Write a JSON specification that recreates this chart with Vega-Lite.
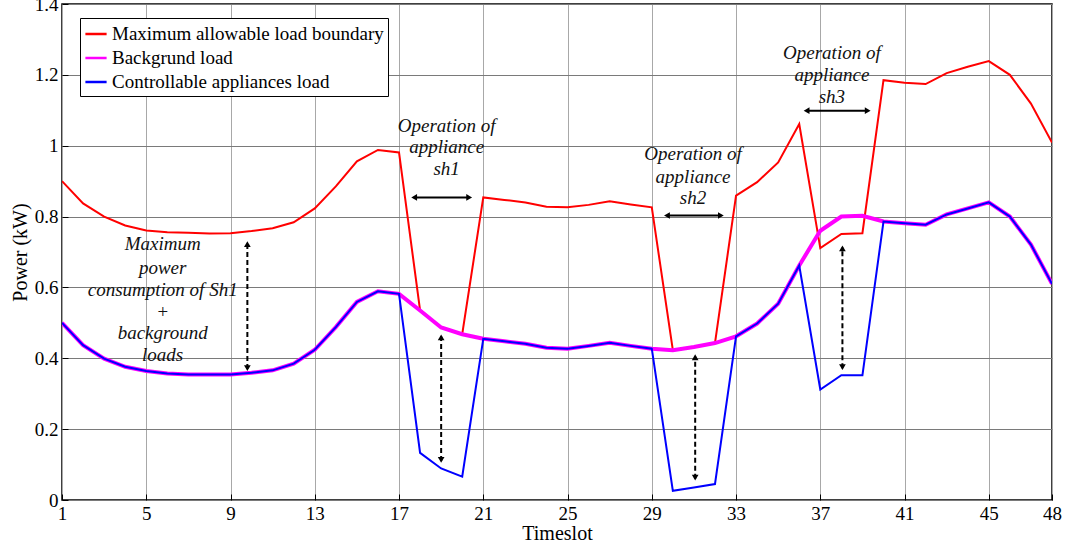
{
  "$schema": "https://vega.github.io/schema/vega-lite/v6.json",
  "width": 990,
  "height": 496,
  "autosize": {"type": "none"},
  "padding": {"left": 62, "top": 4, "right": 25, "bottom": 49},
  "background": "white",
  "config": {
    "view": {"stroke": "black", "strokeWidth": 1.5},
    "font": "Liberation Serif, Times New Roman, serif",
    "axis": {
      "labelFont": "Liberation Serif, Times New Roman, serif",
      "labelFontSize": 19,
      "labelColor": "black",
      "titleFont": "Liberation Serif, Times New Roman, serif",
      "titleFontSize": 20,
      "titleFontWeight": "normal",
      "titleColor": "black",
      "gridOpacity": 1,
      "gridWidth": 1,
      "domain": false,
      "tickColor": "black",
      "tickSize": -6,
      "tickWidth": 1
    },
    "axisX": {"gridColor": "#a8a8a8"},
    "axisY": {"gridColor": "#7a7a7a"},
    "legend": {
      "labelFont": "Liberation Serif, Times New Roman, serif",
      "labelFontSize": 19,
      "labelColor": "black",
      "labelLimit": 600,
      "symbolType": "stroke",
      "symbolStrokeWidth": 2.5,
      "symbolSize": 450,
      "strokeColor": "black",
      "fillColor": "white",
      "padding": 4,
      "rowPadding": 2
    }
  },
  "datasets": {
    "series": [
      {"x": 1, "max": 0.90, "bg": 0.50, "ctrl": 0.50},
      {"x": 2, "max": 0.837, "bg": 0.437, "ctrl": 0.437},
      {"x": 3, "max": 0.80, "bg": 0.399, "ctrl": 0.399},
      {"x": 4, "max": 0.775, "bg": 0.376, "ctrl": 0.376},
      {"x": 5, "max": 0.761, "bg": 0.364, "ctrl": 0.364},
      {"x": 6, "max": 0.756, "bg": 0.357, "ctrl": 0.357},
      {"x": 7, "max": 0.754, "bg": 0.354, "ctrl": 0.354},
      {"x": 8, "max": 0.752, "bg": 0.354, "ctrl": 0.354},
      {"x": 9, "max": 0.753, "bg": 0.354, "ctrl": 0.354},
      {"x": 10, "max": 0.759, "bg": 0.359, "ctrl": 0.359},
      {"x": 11, "max": 0.767, "bg": 0.366, "ctrl": 0.366},
      {"x": 12, "max": 0.784, "bg": 0.385, "ctrl": 0.385},
      {"x": 13, "max": 0.823, "bg": 0.424, "ctrl": 0.424},
      {"x": 14, "max": 0.885, "bg": 0.488, "ctrl": 0.488},
      {"x": 15, "max": 0.956, "bg": 0.559, "ctrl": 0.559},
      {"x": 16, "max": 0.988, "bg": 0.589, "ctrl": 0.589},
      {"x": 17, "max": 0.981, "bg": 0.582, "ctrl": 0.582},
      {"x": 18, "max": 0.535, "bg": 0.535, "ctrl": 0.133},
      {"x": 19, "max": 0.487, "bg": 0.487, "ctrl": 0.089},
      {"x": 20, "max": 0.468, "bg": 0.468, "ctrl": 0.066},
      {"x": 21, "max": 0.854, "bg": 0.455, "ctrl": 0.455},
      {"x": 22, "max": 0.847, "bg": 0.448, "ctrl": 0.448},
      {"x": 23, "max": 0.840, "bg": 0.441, "ctrl": 0.441},
      {"x": 24, "max": 0.828, "bg": 0.430, "ctrl": 0.430},
      {"x": 25, "max": 0.826, "bg": 0.427, "ctrl": 0.427},
      {"x": 26, "max": 0.833, "bg": 0.435, "ctrl": 0.435},
      {"x": 27, "max": 0.843, "bg": 0.444, "ctrl": 0.444},
      {"x": 28, "max": 0.834, "bg": 0.435, "ctrl": 0.435},
      {"x": 29, "max": 0.826, "bg": 0.427, "ctrl": 0.427},
      {"x": 30, "max": 0.423, "bg": 0.423, "ctrl": 0.026},
      {"x": 31, "max": 0.432, "bg": 0.432, "ctrl": 0.035},
      {"x": 32, "max": 0.443, "bg": 0.443, "ctrl": 0.045},
      {"x": 33, "max": 0.859, "bg": 0.462, "ctrl": 0.462},
      {"x": 34, "max": 0.897, "bg": 0.498, "ctrl": 0.498},
      {"x": 35, "max": 0.953, "bg": 0.554, "ctrl": 0.554},
      {"x": 36, "max": 1.061, "bg": 0.662, "ctrl": 0.662},
      {"x": 37, "max": 0.711, "bg": 0.760, "ctrl": 0.312},
      {"x": 38, "max": 0.751, "bg": 0.800, "ctrl": 0.352},
      {"x": 39, "max": 0.753, "bg": 0.802, "ctrl": 0.352},
      {"x": 40, "max": 1.185, "bg": 0.786, "ctrl": 0.786},
      {"x": 41, "max": 1.178, "bg": 0.781, "ctrl": 0.781},
      {"x": 42, "max": 1.174, "bg": 0.777, "ctrl": 0.777},
      {"x": 43, "max": 1.205, "bg": 0.806, "ctrl": 0.806},
      {"x": 44, "max": 1.223, "bg": 0.823, "ctrl": 0.823},
      {"x": 45, "max": 1.239, "bg": 0.840, "ctrl": 0.840},
      {"x": 46, "max": 1.200, "bg": 0.800, "ctrl": 0.800},
      {"x": 47, "max": 1.119, "bg": 0.721, "ctrl": 0.721},
      {"x": 48, "max": 1.009, "bg": 0.610, "ctrl": 0.610}
    ],
    "vrules": [
      {"x": 9.8, "y": 0.37, "y2": 0.725},
      {"x": 19.0, "y": 0.11, "y2": 0.462},
      {"x": 31.06, "y": 0.06, "y2": 0.406},
      {"x": 38.05, "y": 0.372, "y2": 0.713}
    ],
    "hrules": [
      {"x": 17.75, "x2": 20.3, "y": 0.854},
      {"x": 29.75, "x2": 32.25, "y": 0.803},
      {"x": 36.38, "x2": 39.22, "y": 1.099}
    ],
    "heads": [
      {"x": 9.8, "y": 0.722, "dir": "up"},
      {"x": 9.8, "y": 0.372, "dir": "down"},
      {"x": 19.0, "y": 0.459, "dir": "up"},
      {"x": 19.0, "y": 0.113, "dir": "down"},
      {"x": 31.06, "y": 0.403, "dir": "up"},
      {"x": 31.06, "y": 0.063, "dir": "down"},
      {"x": 38.05, "y": 0.71, "dir": "up"},
      {"x": 38.05, "y": 0.375, "dir": "down"},
      {"x": 17.72, "y": 0.854, "dir": "left"},
      {"x": 20.33, "y": 0.854, "dir": "right"},
      {"x": 29.72, "y": 0.803, "dir": "left"},
      {"x": 32.28, "y": 0.803, "dir": "right"},
      {"x": 36.35, "y": 1.099, "dir": "left"},
      {"x": 39.25, "y": 1.099, "dir": "right"}
    ],
    "texts": [
      {"x": 19.26, "y": 1.056, "text": "Operation of"},
      {"x": 19.26, "y": 0.995, "text": "appliance"},
      {"x": 19.26, "y": 0.934, "text": "sh1"},
      {"x": 30.96, "y": 0.977, "text": "Operation of"},
      {"x": 30.96, "y": 0.913, "text": "appliance"},
      {"x": 30.96, "y": 0.853, "text": "sh2"},
      {"x": 37.55, "y": 1.261, "text": "Operation of"},
      {"x": 37.55, "y": 1.199, "text": "appliance"},
      {"x": 37.55, "y": 1.138, "text": "sh3"},
      {"x": 5.78, "y": 0.723, "text": "Maximum"},
      {"x": 5.78, "y": 0.655, "text": "power"},
      {"x": 5.78, "y": 0.594, "text": "consumption of Sh1"},
      {"x": 5.78, "y": 0.532, "text": "+"},
      {"x": 5.78, "y": 0.471, "text": "background"},
      {"x": 5.78, "y": 0.408, "text": "loads"}
    ]
  },
  "encoding": {
    "x": {
      "field": "x",
      "type": "quantitative",
      "title": "Timeslot",
      "scale": {"domain": [1, 48], "nice": false, "zero": false},
      "axis": {
        "values": [1, 5, 9, 13, 17, 21, 25, 29, 33, 37, 41, 45, 48],
        "labelPadding": 10,
        "titlePadding": 0,
        "labelFlush": false
      }
    }
  },
  "layer": [
    {
      "data": {"name": "series"},
      "mark": {"type": "line", "strokeWidth": 2, "clip": true},
      "encoding": {
        "y": {
          "field": "max",
          "type": "quantitative",
          "title": "Power (kW)",
          "scale": {"domain": [0, 1.4], "nice": false},
          "axis": {
            "values": [0, 0.2, 0.4, 0.6, 0.8, 1, 1.2, 1.4],
            "format": "~g",
            "labelPadding": 10,
            "titlePadding": 4
          }
        },
        "color": {
          "datum": "Maximum allowable load boundary",
          "scale": {
            "domain": ["Maximum allowable load boundary", "Backgrund load", "Controllable appliances load"],
            "range": ["#ff0000", "#ff00ff", "#0000ff"]
          },
          "legend": {"title": null, "orient": "none", "legendX": 18, "legendY": 14}
        }
      }
    },
    {
      "data": {"name": "series"},
      "mark": {"type": "line", "strokeWidth": 4, "clip": true},
      "encoding": {
        "y": {"field": "bg", "type": "quantitative", "title": "Power (kW)"},
        "color": {"datum": "Backgrund load"}
      }
    },
    {
      "data": {"name": "series"},
      "mark": {"type": "line", "strokeWidth": 2, "clip": true},
      "encoding": {
        "y": {"field": "ctrl", "type": "quantitative", "title": "Power (kW)"},
        "color": {"datum": "Controllable appliances load"}
      }
    },
    {
      "data": {"name": "vrules"},
      "mark": {"type": "rule", "color": "black", "strokeWidth": 2, "strokeDash": [5, 3]},
      "encoding": {
        "y": {"field": "y", "type": "quantitative", "title": "Power (kW)"},
        "y2": {"field": "y2"}
      }
    },
    {
      "data": {"name": "hrules"},
      "mark": {"type": "rule", "color": "black", "strokeWidth": 2},
      "encoding": {
        "x2": {"field": "x2"},
        "y": {"field": "y", "type": "quantitative", "title": "Power (kW)"}
      }
    },
    {
      "data": {"name": "heads"},
      "mark": {"type": "point", "filled": true, "color": "black", "opacity": 1, "size": 45},
      "encoding": {
        "y": {"field": "y", "type": "quantitative", "title": "Power (kW)"},
        "shape": {
          "field": "dir",
          "type": "nominal",
          "scale": {"domain": ["up", "down", "left", "right"], "range": ["triangle-up", "triangle-down", "triangle-left", "triangle-right"]},
          "legend": null
        }
      }
    },
    {
      "data": {"name": "texts"},
      "mark": {"type": "text", "font": "Liberation Serif, Times New Roman, serif", "fontStyle": "italic", "fontSize": 19, "color": "#111", "align": "center", "baseline": "middle"},
      "encoding": {
        "y": {"field": "y", "type": "quantitative", "title": "Power (kW)"},
        "text": {"field": "text"}
      }
    }
  ]
}
